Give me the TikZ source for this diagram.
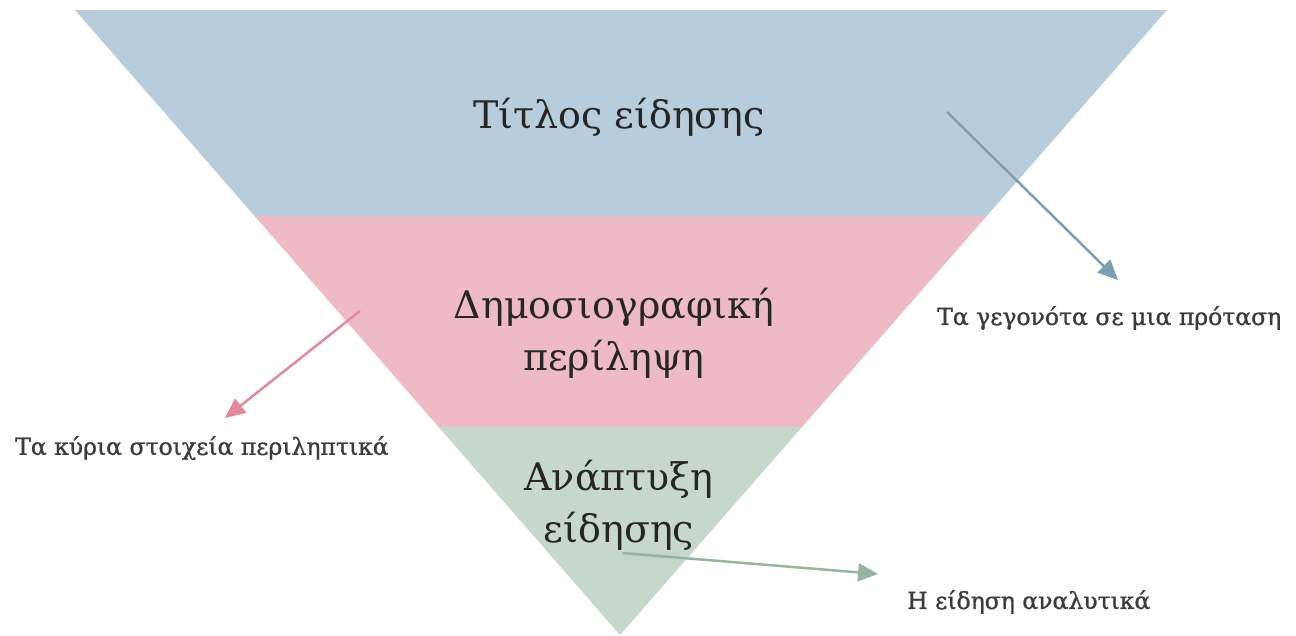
\documentclass[tikz,border=0pt]{standalone}
\usepackage{fontspec}
\setmainfont{DejaVu Serif}
\newfontfamily\labfont[FakeBold=1.2]{DejaVu Serif}
\usetikzlibrary{arrows.meta}
\definecolor{bandblue}{HTML}{B7CDDB}
\definecolor{bandpink}{HTML}{EDBAC5}
\definecolor{bandgreen}{HTML}{C6D7CB}
\definecolor{arrblue}{HTML}{7C9FB4}
\definecolor{arrpink}{HTML}{E2899A}
\definecolor{arrgreen}{HTML}{98B49F}
\definecolor{txt}{HTML}{262626}
\tikzset{
  bigtext/.style={font=\fontsize{38}{52}\selectfont, text=txt, align=center, inner sep=0pt},
  labtext/.style={font=\labfont\fontsize{23.5}{28}\selectfont, text=txt!90!white, inner sep=0pt, anchor=west},
  conn/.style={line width=2.5pt, -{Triangle[length=20pt,width=18pt]}}
}
\begin{document}
\begin{tikzpicture}[x=1pt,y=-1pt]
\useasboundingbox (0,0) rectangle (1296,635);
\coordinate (TL) at (75,10);
\coordinate (TR) at (1167,10);
\coordinate (AP) at (620,635);
\begin{scope}
  \clip (TL) -- (TR) -- (AP) -- cycle;
  \fill[bandblue] (0,0) rectangle (1296,216);
  \fill[bandpink] (0,216) rectangle (1296,427);
  \fill[bandgreen] (0,427) rectangle (1296,640);
\end{scope}
\node[bigtext] (t1) at (619,117) {Τίτλος είδησης};
\node[bigtext] (t2) at (614,333) {Δημοσιογραφική\\περίληψη};
\node[bigtext] (t3) at (619,505) {Ανάπτυξη\\είδησης};
\node[labtext] (l1) at (937,318) {Τα γεγονότα σε μια πρόταση};
\node[labtext] (l2) at (15,448) {Τα κύρια στοιχεία περιληπτικά};
\node[labtext] (l3) at (907,602) {Η είδηση αναλυτικά};
\coordinate (s1) at (947,112);
\coordinate (e1) at (1118,280);
\coordinate (s2) at (360,311);
\coordinate (e2) at (225,418);
\coordinate (s3) at (622,553);
\coordinate (e3) at (878,574);
\draw[conn, arrblue] (s1) -- (e1);
\draw[conn, arrpink] (s2) -- (e2);
\draw[conn, arrgreen] (s3) -- (e3);
\end{tikzpicture}
\end{document}
